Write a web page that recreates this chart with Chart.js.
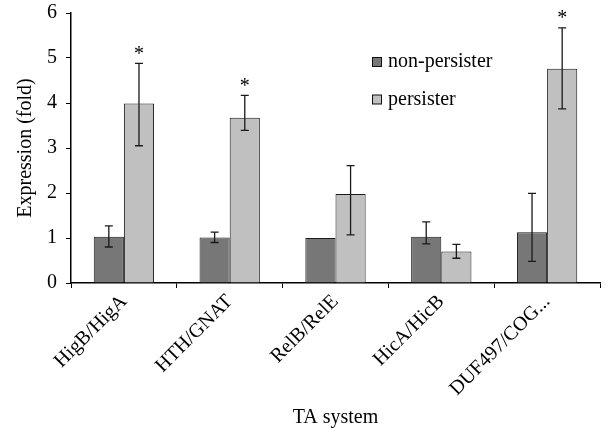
<!DOCTYPE html>
<html>
<head>
<meta charset="utf-8">
<script src="https://cdn.jsdelivr.net/npm/chart.js@4"></script>
<style>
  html, body { margin: 0; padding: 0; background: #fff; }
  #wrap { width: 610px; height: 428px; }
</style>
</head>
<body>
<div id="wrap"><canvas id="chart" width="610" height="428"></canvas></div>
<script>
const categories = ["HigB/HigA", "HTH/GNAT", "RelB/RelE", "HicA/HicB", "DUF497/COG..."];
const nonPersister = [1.03, 1.01, 1.0, 1.03, 1.13];
const nonErrLow = [0.80, 0.90, null, 0.87, 0.48];
const nonErrHigh = [1.27, 1.13, null, 1.36, 1.99];
const persister = [3.99, 3.67, 1.98, 0.70, 4.76];
const perErrLow = [3.05, 3.39, 1.07, 0.55, 3.87];
const perErrHigh = [4.88, 4.17, 2.61, 0.86, 5.67];
const significant = [true, true, false, false, true];

const serif = "'Liberation Serif', 'Times New Roman', serif";

// error bars + asterisks
const errorBars = {
  id: "errorBars",
  afterDatasetsDraw(chart) {
    const ctx = chart.ctx;
    const y = chart.scales.y;
    const sets = [[nonErrLow, nonErrHigh], [perErrLow, perErrHigh]];
    ctx.save();
    ctx.strokeStyle = "#1a1a1a";
    ctx.lineWidth = 1.3;
    sets.forEach((pair, di) => {
      const meta = chart.getDatasetMeta(di);
      meta.data.forEach((bar, i) => {
        const lo = pair[0][i], hi = pair[1][i];
        if (lo == null || hi == null) return;
        const x = bar.x;
        const yl = y.getPixelForValue(lo), yh = y.getPixelForValue(hi);
        ctx.beginPath();
        ctx.moveTo(x, yl); ctx.lineTo(x, yh);
        ctx.moveTo(x - 4, yl); ctx.lineTo(x + 4, yl);
        ctx.moveTo(x - 4, yh); ctx.lineTo(x + 4, yh);
        ctx.stroke();
        if (di === 1 && significant[i]) {
          ctx.fillStyle = "#000";
          ctx.font = "20px " + serif;
          ctx.textAlign = "center";
          ctx.textBaseline = "middle";
          ctx.fillText("*", x, yh - 9);
        }
      });
    });
    ctx.restore();
  }
};

// legend drawn inside plot
const insideLegend = {
  id: "insideLegend",
  afterDraw(chart) {
    const ctx = chart.ctx;
    ctx.save();
    ctx.font = "20px " + serif;
    ctx.textBaseline = "middle";
    ctx.textAlign = "left";
    chart.data.datasets.forEach((ds, i) => {
      const cy = 62 + i * 37.5;
      ctx.fillStyle = ds.backgroundColor;
      ctx.fillRect(372.5, cy - 4.5, 9, 9);
      ctx.strokeStyle = "#111";
      ctx.lineWidth = 1;
      ctx.strokeRect(372.5, cy - 4.5, 9, 9);
      ctx.fillStyle = "#000";
      ctx.fillText(ds.label, 388, cy);
    });
    ctx.restore();
  }
};

new Chart(document.getElementById("chart"), {
  type: "bar",
  data: {
    labels: categories,
    datasets: [
      { label: "non-persister", data: nonPersister, backgroundColor: "#777777",
        borderColor: "#1a1a1a", borderWidth: 1, categoryPercentage: 0.57, barPercentage: 1 },
      { label: "persister", data: persister, backgroundColor: "#c0c0c0",
        borderColor: "#1a1a1a", borderWidth: 1, categoryPercentage: 0.57, barPercentage: 1 }
    ]
  },
  options: {
    responsive: false,
    animation: false,
    layout: { padding: { left: 0, right: 10, top: 13, bottom: 0 } },
    plugins: { legend: { display: false }, tooltip: { enabled: false } },
    scales: {
      x: {
        afterFit(scale) { scale.height = 145; },
        grid: { display: true, offset: true, drawOnChartArea: false, drawTicks: true, tickLength: 5, color: "#000" },
        border: { display: true, color: "#000", width: 1.5 },
        ticks: { color: "#000", font: { family: serif, size: 20 }, minRotation: 45, maxRotation: 45, padding: 2 },
        title: { display: true, text: "TA system", color: "#000", font: { family: serif, size: 20, lineHeight: 1 }, padding: { top: 0, bottom: 0 } }
      },
      y: {
        min: 0, max: 6,
        afterFit(scale) { scale.width = 71; scale.paddingTop = 0; scale.paddingBottom = 0; },
        grid: { display: true, drawOnChartArea: false, drawTicks: true, tickLength: 5, color: "#000" },
        border: { display: true, color: "#000", width: 1.5 },
        ticks: { stepSize: 1, color: "#000", font: { family: serif, size: 20 }, padding: 9 },
        title: { display: true, text: "Expression (fold)", color: "#000", font: { family: serif, size: 20 }, padding: { top: 14, bottom: 0 } }
      }
    }
  },
  plugins: [errorBars, insideLegend]
});
</script>
</body>
</html>
